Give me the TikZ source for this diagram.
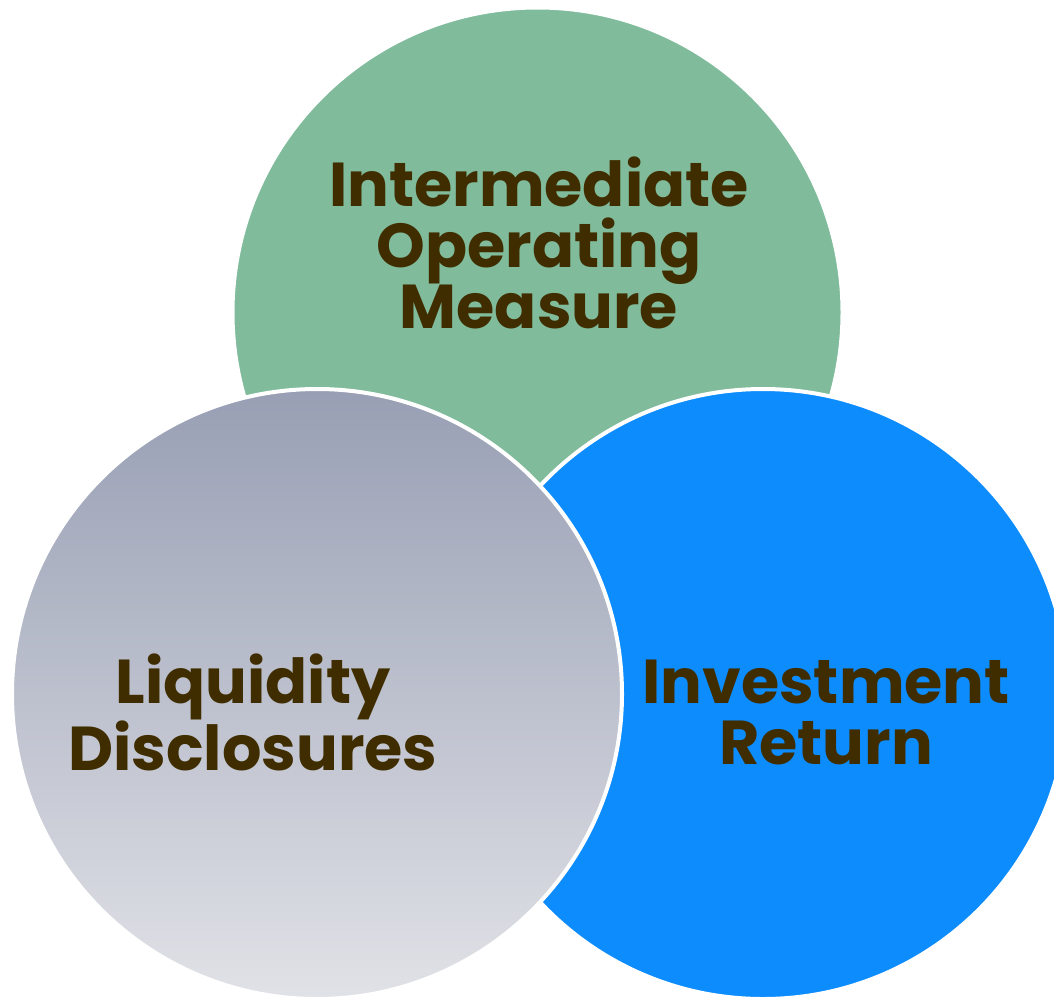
\documentclass[tikz,border=0pt]{standalone}
\usepackage{fontspec}
\setmainfont{Poppins}
\definecolor{greenc}{RGB}{128,187,155}
\definecolor{bluec}{RGB}{13,140,254}
\definecolor{graytop}{RGB}{152,159,180}
\definecolor{graybot}{RGB}{225,226,231}
\definecolor{textc}{RGB}{63,45,0}
\begin{document}
\begin{tikzpicture}[x=1pt,y=-1pt,
  bubble/.style={circle, draw=white, line width=4pt, minimum size=610pt, inner sep=0pt},
  lbl/.style={text=textc, font=\fontsize{62}{61}\selectfont\bfseries, align=center}]
\useasboundingbox (0,0) rectangle (1054,999);
\clip (0,0) rectangle (1054,999);
\node[bubble, fill=greenc] (g) at (537.5,312.5) {};
\node[bubble, fill=bluec] (b) at (763,694) {};
\node[bubble, top color=graytop, bottom color=graybot] (a) at (317,694) {};
\node[lbl] (tg) at (539,243) {Intermediate\\Operating\\Measure};
\node[lbl] (ta) at (253,712) {Liquidity\\Disclosures};
\node[lbl] (tb) at (826,712) {Investment\\Return};
\end{tikzpicture}
\end{document}
